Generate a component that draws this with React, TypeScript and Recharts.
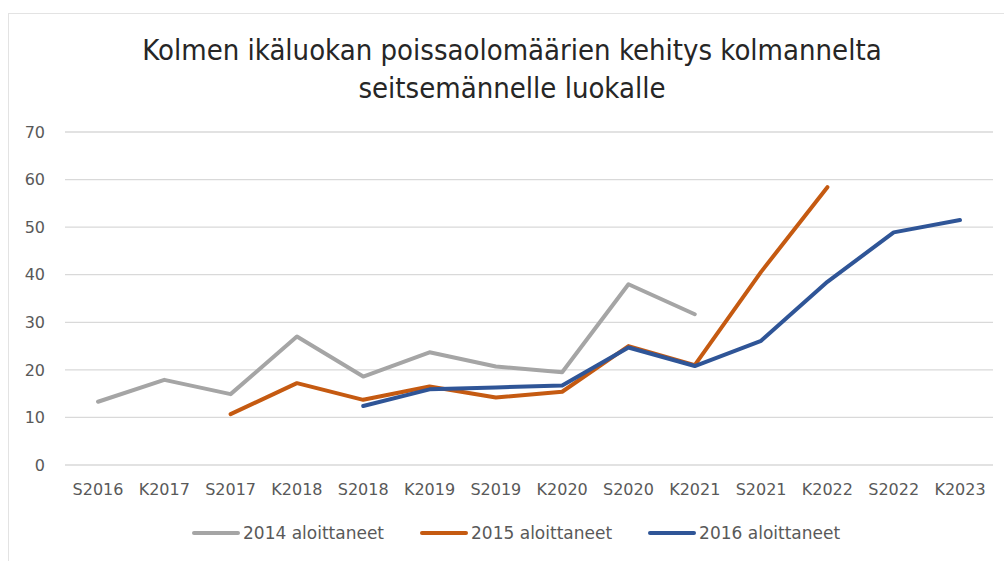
import React from 'react';
import { LineChart, Line, XAxis, YAxis, CartesianGrid, Legend } from 'recharts';

const categories = ['S2016', 'K2017', 'S2017', 'K2018', 'S2018', 'K2019', 'S2019', 'K2020', 'S2020', 'K2021', 'S2021', 'K2022', 'S2022', 'K2023'];
const series2014 = [13.3, 17.9, 14.9, 27.0, 18.6, 23.7, 20.7, 19.5, 38.0, 31.7, null, null, null, null];
const series2015 = [null, null, 10.7, 17.2, 13.7, 16.5, 14.2, 15.4, 25.0, 21.0, 40.6, 58.4, null, null];
const series2016 = [null, null, null, null, 12.4, 15.9, 16.3, 16.7, 24.7, 20.8, 26.1, 38.5, 48.9, 51.5];
const yTicks = [0, 10, 20, 30, 40, 50, 60, 70];
const seriesNames = ['2014 aloittaneet', '2015 aloittaneet', '2016 aloittaneet'];
const seriesColors = ['#A5A5A5', '#C55A11', '#2F5597'];

const data = categories.map((c, i) => ({
  name: c,
  s2014: series2014[i],
  s2015: series2015[i],
  s2016: series2016[i],
}));

const FONT = '"DejaVu Sans", Verdana, sans-serif';

const LegendContent = () => (
  <div style={{ display: 'flex', alignItems: 'center', fontFamily: FONT, fontSize: 17, color: '#595959' }}>
    {seriesNames.map((n, i) => (
      <div key={n} style={{ display: 'flex', alignItems: 'center', marginRight: i < 2 ? 36 : 0 }}>
        <svg width={48} height={8} style={{ marginRight: 3 }}>
          <line x1={2} y1={4} x2={46} y2={4} stroke={seriesColors[i]} strokeWidth={4} strokeLinecap="round" />
        </svg>
        <span>{n}</span>
      </div>
    ))}
  </div>
);

export default function App() {
  return (
    <div style={{ position: 'absolute', left: 0, top: 0, width: 1004, height: 561, background: '#fff', overflow: 'hidden' }}>
      <div style={{ position: 'absolute', left: 8, top: 13, width: 1100, height: 700, borderTop: '1.5px solid #e3e3e3', borderLeft: '1.5px solid #e3e3e3' }} />
      <div
        style={{
          position: 'absolute',
          left: 0,
          top: 31,
          width: 1024,
          textAlign: 'center',
          fontFamily: '"Liberation Sans Narrow", "DejaVu Sans Condensed", sans-serif',
          fontSize: 29,
          lineHeight: '38px',
          color: '#262626',
        }}
      >
        <div>Kolmen ikäluokan poissaolomäärien kehitys kolmannelta</div>
        <div>seitsemännelle luokalle</div>
      </div>
      <div style={{ position: 'absolute', left: 0, top: 0 }}>
        <LineChart width={1004} height={561} data={data} margin={{ top: 132, right: 11, left: 8, bottom: 66 }}>
          <CartesianGrid vertical={false} stroke="#d9d9d9" strokeWidth={1.3} />
          <XAxis
            dataKey="name"
            axisLine={false}
            tickLine={false}
            tickSize={0}
            tickMargin={19}
            height={30}
            interval={0}
            padding={{ left: 33, right: 33 }}
            tick={{ fill: '#595959', fontSize: 16, fontFamily: FONT }}
          />
          <YAxis
            domain={[0, 70]}
            ticks={yTicks}
            axisLine={false}
            tickLine={false}
            tickSize={0}
            tickMargin={20}
            width={57}
            tick={{ fill: '#595959', fontSize: 16, fontFamily: FONT }}
          />
          <Legend
            verticalAlign="middle"
            align="center"
            layout="horizontal"
            wrapperStyle={{ top: 523, left: 192, width: 'auto' }}
            content={<LegendContent />}
          />
          <Line dataKey="s2014" name={seriesNames[0]} stroke={seriesColors[0]} strokeWidth={4} dot={false} activeDot={false} strokeLinecap="round" strokeLinejoin="round" isAnimationActive={false} />
          <Line dataKey="s2015" name={seriesNames[1]} stroke={seriesColors[1]} strokeWidth={4} dot={false} activeDot={false} strokeLinecap="round" strokeLinejoin="round" isAnimationActive={false} />
          <Line dataKey="s2016" name={seriesNames[2]} stroke={seriesColors[2]} strokeWidth={4} dot={false} activeDot={false} strokeLinecap="round" strokeLinejoin="round" isAnimationActive={false} />
        </LineChart>
      </div>
    </div>
  );
}
